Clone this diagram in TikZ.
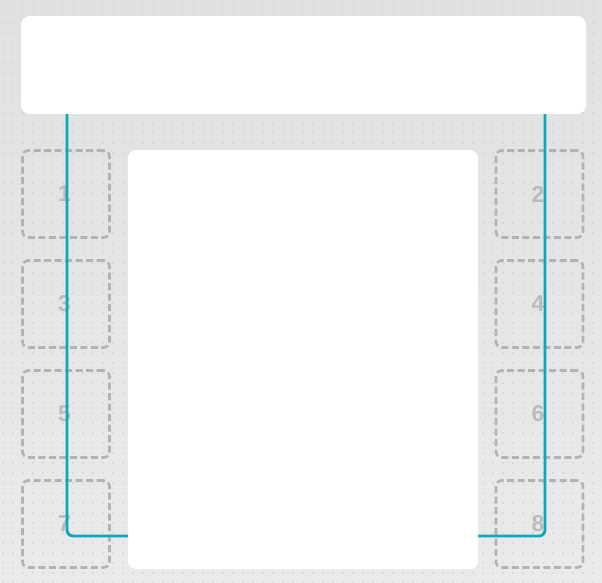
\documentclass[tikz,border=0pt]{standalone}
\usepackage{fontspec}
\setmainfont{Liberation Sans}
\usetikzlibrary{calc}
\definecolor{paper}{HTML}{EAEAEA}
\definecolor{papertop}{HTML}{E1E1E1}
\definecolor{dotgrey}{HTML}{CDCDCD}
\definecolor{slotgrey}{HTML}{B3B3B3}
\definecolor{numgrey}{HTML}{BBBBBB}
\definecolor{wireteal}{HTML}{0AA8BC}
\tikzset{
	panel/.style={fill=white, rounded corners=9pt, inner sep=0pt},
	slotbox/.style={draw=slotgrey, line width=2.6pt, dash pattern=on 7pt off 3.5pt, rounded corners=6pt,
		minimum width=87pt, minimum height=87pt, inner sep=0pt, text=numgrey,
		font=\fontsize{23}{23}\selectfont\bfseries},
	wire/.style={draw=wireteal, line width=2.8pt, rounded corners=6pt}
}

\begin{document}
\begin{tikzpicture}[x=1pt, y=-1pt]
			%%%%% START %%%%%
			
			\useasboundingbox (0, 0) rectangle (602, 582);
			\fill[top color=papertop, bottom color=paper] (0, 0) rectangle (602, 582);
			\foreach \i in {0,...,60}
				\foreach \j in {0,...,58}
					\fill[dotgrey] (\i*10+3, \j*10+3) circle (0.9);
			
			\node[panel, minimum width=565pt, minimum height=98pt] (header) at (303.5, 65) {};
			
			\foreach \n/\x/\y in {1/66/194, 2/539.5/194, 3/66/304, 4/539.5/304, 5/66/414, 6/539.5/414, 7/66/524, 8/539.5/524}
				\node[slotbox] (slot\n) at (\x, \y) {\hspace*{-3pt}\n};
			
			\coordinate (turnL) at (67, 536);
			\coordinate (turnR) at (545, 536);
			\draw[wire] (header.south -| turnL) -- (turnL) -- (303, 536);
			\draw[wire] (header.south -| turnR) -- (turnR) -- (303, 536);
			
			\node[panel, rounded corners=8pt, minimum width=350pt, minimum height=419pt] (body) at (303, 359.5) {};
			
			%%%%% END %%%%%
		\end{tikzpicture}
\end{document}
